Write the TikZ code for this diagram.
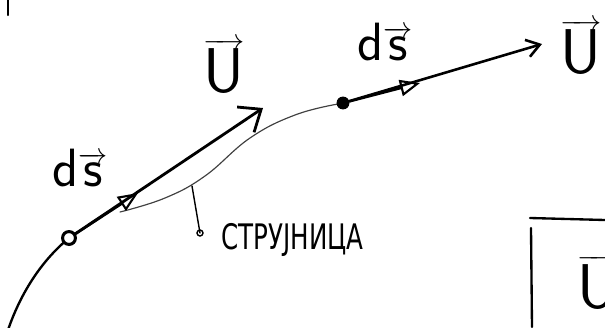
\documentclass[tikz,border=0pt]{standalone}
\usepackage{fontspec}
\setmainfont{DejaVu Sans}
\usetikzlibrary{arrows.meta}
\begin{document}
\begin{tikzpicture}[x=0.03cm, y=-0.03cm, line cap=round,
    openpt/.style={circle, draw, fill=white, line width=2.6pt, inner sep=0pt, minimum size=11pt},
    fullpt/.style={circle, fill, inner sep=0pt, minimum size=11pt},
    bigvec/.style={line width=2.4pt, -{Straight Barb[length=16pt, width=26pt, line width=2.4pt]}},
    smallvec/.style={line width=2.2pt, -{Straight Barb[length=11pt, width=15pt, line width=2.2pt]}},
    dsvec/.style={line width=2.2pt, -{Triangle[open, length=17pt, width=14pt, line width=1.8pt]}},
    lab/.style={font=\fontsize{46}{46}\selectfont, inner sep=0pt},
    biglab/.style={font=\fontsize{54}{54}\selectfont, inner sep=0pt},
    stream/.style={line width=1pt, black!75}]
  \useasboundingbox (0,0) rectangle (605,327);
  \clip (0,0) rectangle (605,327);
  % points on the streamline
  \coordinate (bot) at (8,330);
  \coordinate (tipU) at (263,108);
  \coordinate (tipR) at (542,44);
  \coordinate (dsA) at (138,193);
  \coordinate (dsB) at (420,83);
  \coordinate (onc) at (192,186);
  \coordinate (hook) at (200,233);
  % the streamline
  \draw[line width=2pt] (bot) .. controls (20,295) and (40,262) .. (69,238);
  \draw[stream] plot[smooth, tension=0.7] coordinates
    {(120,212) (165,198) (205,176) (250,138) (295,115) (338,104)};
  \node[openpt] (pA) at (69,238) {};
  \node[fullpt] (pB) at (343,103) {};
  % vectors
  \draw[bigvec] (pA) -- (tipU);
  \draw[dsvec] (pA) -- (dsA);
  \draw[smallvec] (pB) -- (tipR);
  \draw[dsvec] (pB) -- (dsB);
  % labels
  \node[lab] (dsl) at (80,168) {$\mathsf{d}\overrightarrow{\mathsf{s}}$};
  \node[biglab] (ul) at (224,66) {$\overrightarrow{\mathsf{U}}$};
  \node[lab] (dsr) at (385,42) {$\mathsf{d}\overrightarrow{\mathsf{s}}$};
  \node[biglab] (ur) at (581,47) {$\overrightarrow{\mathsf{U}}$};
  \draw[line width=1.2pt] (onc) -- (hook);
  \draw[line width=1.2pt] (hook) circle (3);
  \node[font=\fontsize{30}{30}\selectfont, anchor=west, inner sep=0pt] (name) at (221,240)
    {\scalebox{0.7}[1]{СТРУЈНИЦА}};
  % fragments at the edges
  \draw[line width=2pt] (8,0) -- (8,15);
  \draw[line width=2pt] (530,218) -- (605,220);
  \draw[line width=2pt] (531,228) -- (532,327);
  \node[biglab] (ub) at (598,282) {$\overrightarrow{\mathsf{U}}$};
\end{tikzpicture}
\end{document}
